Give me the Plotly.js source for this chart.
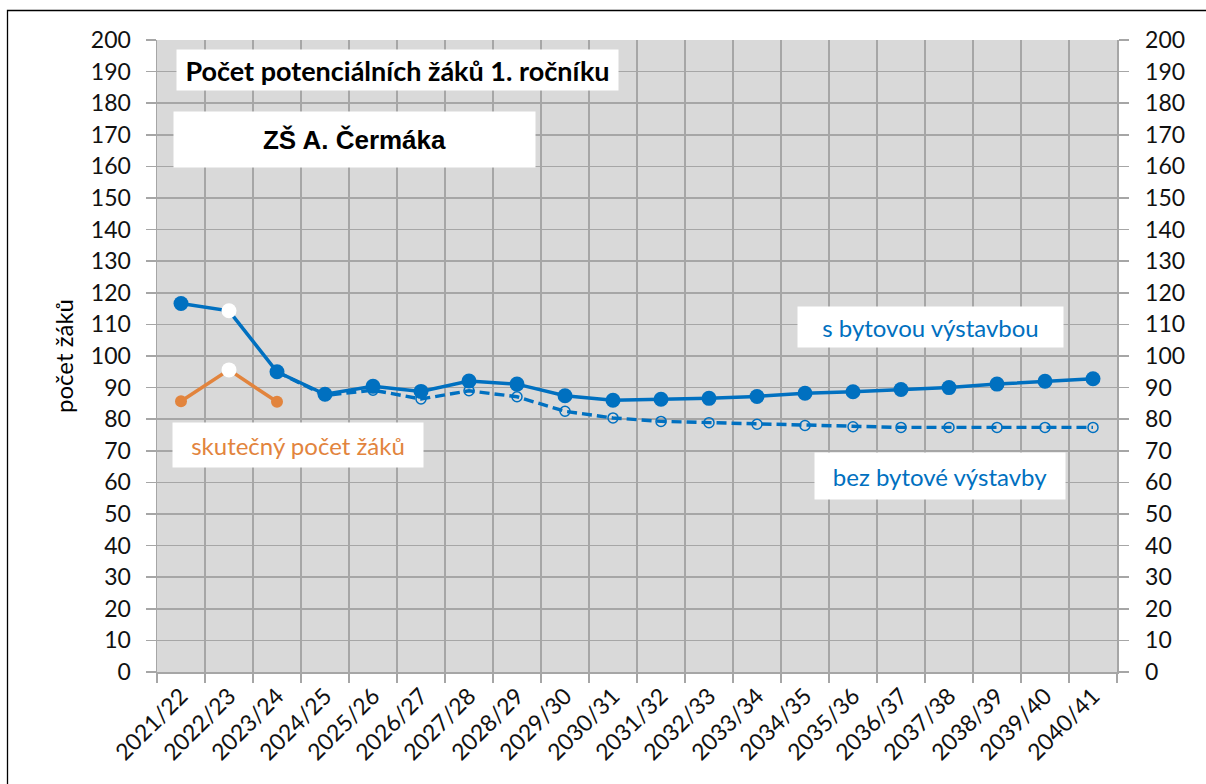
<!DOCTYPE html>
<html>
<head>
<meta charset="utf-8">
<script src="https://cdn.plot.ly/plotly-3.0.1.min.js"></script>
<style>html,body{margin:0;padding:0;background:#fff}#chart{width:1206px;height:784px}</style>
</head>
<body>
<div id="chart"></div>
<script>
const categories = ["2021/22","2022/23","2023/24","2024/25","2025/26","2026/27","2027/28","2028/29","2029/30","2030/31","2031/32","2032/33","2033/34","2034/35","2035/36","2036/37","2037/38","2038/39","2039/40","2040/41"];
const sBytovouVystavbou = [116.6,114.3,95.0,87.9,90.4,88.8,92.1,91.1,87.4,86.0,86.3,86.6,87.2,88.2,88.7,89.4,90.0,91.1,92.0,92.8];
const bezBytoveVystavby = [null,null,95.0,87.5,89.2,86.4,89.0,87.1,82.5,80.4,79.3,78.9,78.4,78.0,77.6,77.4,77.4,77.4,77.4,77.4];
const skutecnyPocet = [85.7,95.6,85.5,null,null,null,null,null,null,null,null,null,null,null,null,null,null,null,null,null];
const highlightIndex = 1;

const BLUE = '#0070C0', ORANGE = '#E2843D', GRID = '#A6A6A6';
const FONT = 'Lato, "Open Sans", sans-serif';

const L = 157, R = 1117, T = 40, B = 672;
const px = x => (x - L) / (R - L);
const py = y => (B - y) / (B - T);

const solidColors = categories.map((c,i) => i === highlightIndex ? '#FFFFFF' : BLUE);
const orangeColors = categories.map((c,i) => i === highlightIndex ? '#FFFFFF' : ORANGE);
const orangeSizes = categories.map((c,i) => i === highlightIndex ? 15 : 12);

const traces = [
  {x: categories, y: bezBytoveVystavby, type:'scatter', mode:'lines+markers',
   line:{color:BLUE, width:3.4, dash:'10px,5px'},
   marker:{symbol:'circle-open', size:10, color:BLUE, line:{width:1.5, color:BLUE}},
   hoverinfo:'skip', showlegend:false},
  {x: categories, y: sBytovouVystavbou, type:'scatter', mode:'lines+markers',
   line:{color:BLUE, width:3.5},
   marker:{symbol:'circle', size:15, color:solidColors, opacity:1, line:{width:0}},
   hoverinfo:'skip', showlegend:false},
  {x: categories, y: skutecnyPocet, type:'scatter', mode:'lines+markers',
   line:{color:ORANGE, width:3.5},
   marker:{symbol:'circle', size:orangeSizes, color:orangeColors, opacity:1, line:{width:0}},
   hoverinfo:'skip', showlegend:false},
  {x: categories, y: sBytovouVystavbou, yaxis:'y2', type:'scatter', mode:'lines',
   line:{width:0, color:'rgba(0,0,0,0)'}, hoverinfo:'skip', showlegend:false}
];

const tickFont = {family: FONT, size: 23, color: '#111111'};

const layout = {
  width:1206, height:784,
  margin:{l:L, r:1206-R, t:T, b:784-B, pad:0},
  paper_bgcolor:'#FFFFFF', plot_bgcolor:'#D9D9D9',
  showlegend:false,
  xaxis:{type:'category', range:[-0.5,19.5], tickson:'boundaries', ticks:'outside', ticklen:9,
         tickcolor:GRID, tickwidth:1.5, showgrid:true, gridcolor:GRID, gridwidth:1.5,
         showline:true, linecolor:GRID, linewidth:1.5, tickangle:-45, tickfont:tickFont,
         automargin:false, fixedrange:true},
  yaxis:{range:[0,200], dtick:10, tick0:0, ticks:'outside', ticklen:10, tickcolor:GRID, tickwidth:1.5,
         showgrid:true, gridcolor:GRID, gridwidth:1.5, zeroline:false, showline:true, linecolor:GRID,
         linewidth:1.5, tickfont:tickFont, ticklabelstandoff:10, automargin:false, fixedrange:true},
  yaxis2:{overlaying:'y', side:'right', range:[0,200], dtick:10, tick0:0, ticks:'outside', ticklen:10,
          tickcolor:GRID, tickwidth:1.5, showgrid:false, zeroline:false, showline:true, linecolor:GRID,
          linewidth:1.5, tickfont:tickFont, ticklabelstandoff:12, automargin:false, fixedrange:true},
  shapes:[
    {type:'rect', xref:'paper', yref:'paper', x0:px(7.5), x1:px(1230), y0:py(810), y1:py(10.5),
     line:{color:'#000000', width:1.3}, fillcolor:'rgba(0,0,0,0)', layer:'above'}
  ],
  annotations:[
    {xref:'paper', yref:'paper', x:px(397), y:py(70), xanchor:'center', yanchor:'middle',
     text:'<b>Počet potenciálních žáků 1. ročníku</b>', showarrow:false,
     font:{family:FONT, size:27, color:'#000000'}, bgcolor:'#FFFFFF', width:437, height:36, borderpad:2},
    {xref:'paper', yref:'paper', x:px(354.5), y:py(140), xanchor:'center', yanchor:'middle',
     text:'<b>ZŠ A. Čermáka</b>', showarrow:false,
     font:{family:'"Liberation Sans", Arial, sans-serif', size:26, color:'#000000'}, bgcolor:'#FFFFFF', width:357, height:51, borderpad:2},
    {xref:'paper', yref:'paper', x:px(297.7), y:py(445.3), xanchor:'center', yanchor:'middle',
     text:'skutečný počet žáků', showarrow:false,
     font:{family:FONT, size:24, color:ORANGE}, bgcolor:'#FFFFFF', width:246, height:40, borderpad:2},
    {xref:'paper', yref:'paper', x:px(930.5), y:py(327), xanchor:'center', yanchor:'middle',
     text:'s bytovou výstavbou', showarrow:false,
     font:{family:FONT, size:24, color:BLUE}, bgcolor:'#FFFFFF', width:261, height:36, borderpad:2},
    {xref:'paper', yref:'paper', x:px(940), y:py(476), xanchor:'center', yanchor:'middle',
     text:'bez bytové výstavby', showarrow:false,
     font:{family:FONT, size:24, color:BLUE}, bgcolor:'#FFFFFF', width:246, height:42, borderpad:2},
    {xref:'paper', yref:'paper', x:px(63), y:0.5, xanchor:'center', yanchor:'middle',
     text:'počet žáků', textangle:-90, showarrow:false,
     font:{family:FONT, size:24, color:'#000000'}}
  ]
};

Plotly.newPlot('chart', traces, layout, {displayModeBar:false, staticPlot:true});
</script>
</body>
</html>
